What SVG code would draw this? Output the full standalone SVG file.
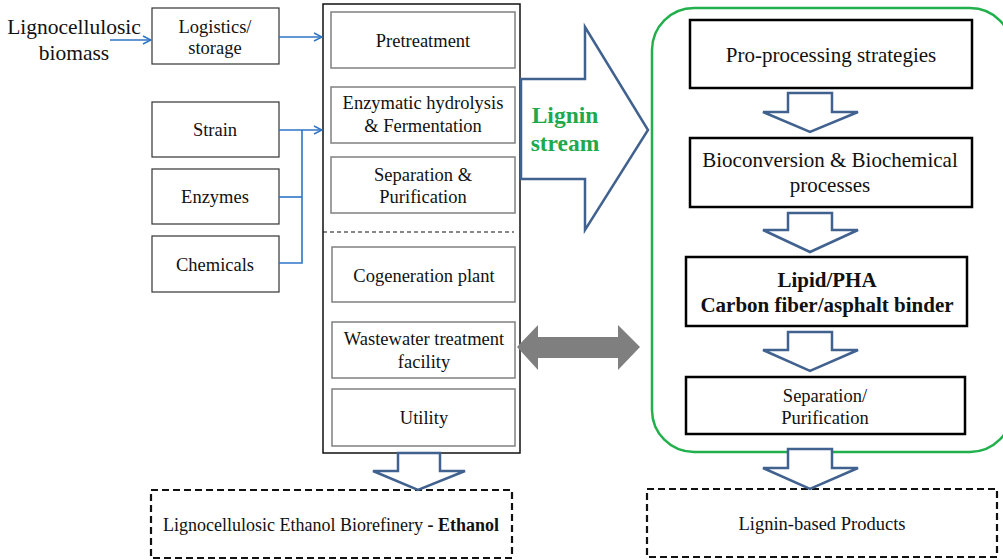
<svg xmlns="http://www.w3.org/2000/svg" width="1003" height="560" viewBox="0 0 1003 560">
<defs>
<marker id="oa" markerWidth="10" markerHeight="10" refX="9" refY="5" orient="auto" markerUnits="userSpaceOnUse">
<polyline points="1,1 9,5 1,9" fill="none" stroke="#2e75c6" stroke-width="1.5"/>
</marker>
</defs>
<style>
text{font-family:"Liberation Serif","Times New Roman",serif;fill:#111;text-anchor:middle}
.t{font-size:18.5px}
.r{font-size:21px}
.lb{fill:#fff;stroke:#333;stroke-width:1.2}
.ib{fill:#fff;stroke:#808080;stroke-width:1.5}
.rb{fill:#fff;stroke:#000;stroke-width:2.5}
.ha{fill:#fff;stroke:#41628f;stroke-width:2.5;stroke-linejoin:miter}
.bl{fill:none;stroke:#2e75c6;stroke-width:1.6}
.db{fill:#fff;stroke:#111;stroke-width:2.2;stroke-dasharray:7,4}
</style>
<rect width="1003" height="560" fill="#fff"/>

<g id="green-panel">
<rect x="652" y="8" width="360" height="444" rx="42" fill="none" stroke="#21b04b" stroke-width="2.5"/>
</g>

<g id="biomass-label">
<text x="74" y="34" style="font-size:21.5px">Lignocellulosic</text>
<text x="74" y="60" style="font-size:21.5px">biomass</text>
</g>

<g id="logistics"><rect class="lb" x="152" y="8" width="127" height="56"/><text class="t" x="215" y="33">Logistics/</text><text class="t" x="215" y="54">storage</text></g>
<g id="strain"><rect class="lb" x="152" y="102" width="127" height="55"/><text class="t" x="215" y="136">Strain</text></g>
<g id="enzymes"><rect class="lb" x="152" y="169" width="127" height="55"/><text class="t" x="215" y="203">Enzymes</text></g>
<g id="chemicals"><rect class="lb" x="152" y="236" width="127" height="56"/><text class="t" x="215" y="271">Chemicals</text></g>

<g id="column">
<rect x="323" y="4" width="197" height="449" fill="#fff" stroke="#111" stroke-width="1.5"/>
<line x1="323" y1="232" x2="514" y2="232" stroke="#111" stroke-width="1.2" stroke-dasharray="4,3"/>
</g>
<g id="pretreatment"><rect class="ib" x="331" y="12" width="184" height="56"/><text class="t" x="423" y="47">Pretreatment</text></g>
<g id="enzymatic"><rect class="ib" x="331" y="87" width="184" height="56"/><text class="t" x="423" y="109">Enzymatic hydrolysis</text><text class="t" x="423" y="132">&amp; Fermentation</text></g>
<g id="separation"><rect class="ib" x="331" y="157" width="184" height="56"/><text class="t" x="423" y="181">Separation &amp;</text><text class="t" x="423" y="203">Purification</text></g>
<g id="cogeneration"><rect class="ib" x="332" y="247" width="183" height="55"/><text class="t" x="424" y="282">Cogeneration plant</text></g>
<g id="wastewater"><rect class="ib" x="332" y="322" width="183" height="56"/><text class="t" x="424" y="345">Wastewater treatment</text><text class="t" x="424" y="368">facility</text></g>
<g id="utility"><rect class="ib" x="332" y="389" width="183" height="57"/><text class="t" x="424" y="424">Utility</text></g>

<g id="pro-processing"><rect class="rb" x="690" y="20" width="282" height="68"/><text class="r" x="831" y="62">Pro-processing strategies</text></g>
<g id="bioconversion"><rect class="rb" x="690" y="138" width="282" height="69"/><text class="r" x="830" y="167">Bioconversion &amp; Biochemical</text><text class="r" x="830" y="192">processes</text></g>
<g id="lipid"><rect class="rb" x="686" y="257" width="281" height="69"/><text class="r" x="827" y="287" font-weight="bold">Lipid/PHA</text><text class="r" x="827" y="312" font-weight="bold">Carbon fiber/asphalt binder</text></g>
<g id="sep-pur"><rect class="rb" x="686" y="377" width="279" height="57"/><text class="t" x="825" y="402">Separation/</text><text class="t" x="825" y="424">Purification</text></g>

<g id="ethanol-product"><rect class="db" x="151" y="490" width="361" height="68"/><text x="331" y="531" style="font-size:18px">Lignocellulosic Ethanol Biorefinery <tspan font-weight="bold">- Ethanol</tspan></text></g>
<g id="lignin-products"><rect class="db" x="647" y="489" width="350" height="68"/><text x="822" y="530" style="font-size:18.5px">Lignin-based Products</text></g>

<g id="connectors">
<line class="bl" x1="110" y1="40" x2="151" y2="40" marker-end="url(#oa)"/>
<line class="bl" x1="279" y1="37" x2="322" y2="37" marker-end="url(#oa)"/>
<line class="bl" x1="279" y1="130" x2="322" y2="130" marker-end="url(#oa)"/>
<polyline class="bl" points="279,197 302,197"/>
<polyline class="bl" points="279,263 302,263 302,130"/>
<path class="ha" d="M521,79 H585 V27 L648,130 L585,230 V179 H521 Z"/>
<text x="565" y="123" style="font-size:23.5px;font-weight:bold;fill:#1fa84c">Lignin</text>
<text x="565" y="151" style="font-size:23.5px;font-weight:bold;fill:#1fa84c">stream</text>
<path class="ha" d="M788,93 H832 V112 H858 L810,132 L763,112 H788 Z"/>
<path class="ha" d="M788,213 H832 V230 H858 L810,252 L763,230 H788 Z"/>
<path class="ha" d="M788,332 H832 V350 H858 L810,371 L763,350 H788 Z"/>
<path class="ha" d="M788,449 H832 V468 H858 L810,489 L763,468 H788 Z"/>
<path class="ha" d="M398,453 H440 V471 H465 L418,490 L373,471 H398 Z"/>
<path d="M517,347 L538,325 V337 H618 V325 L640,347 L618,370 V358 H538 V370 Z" fill="#7f7f7f"/>
</g>
</svg>
